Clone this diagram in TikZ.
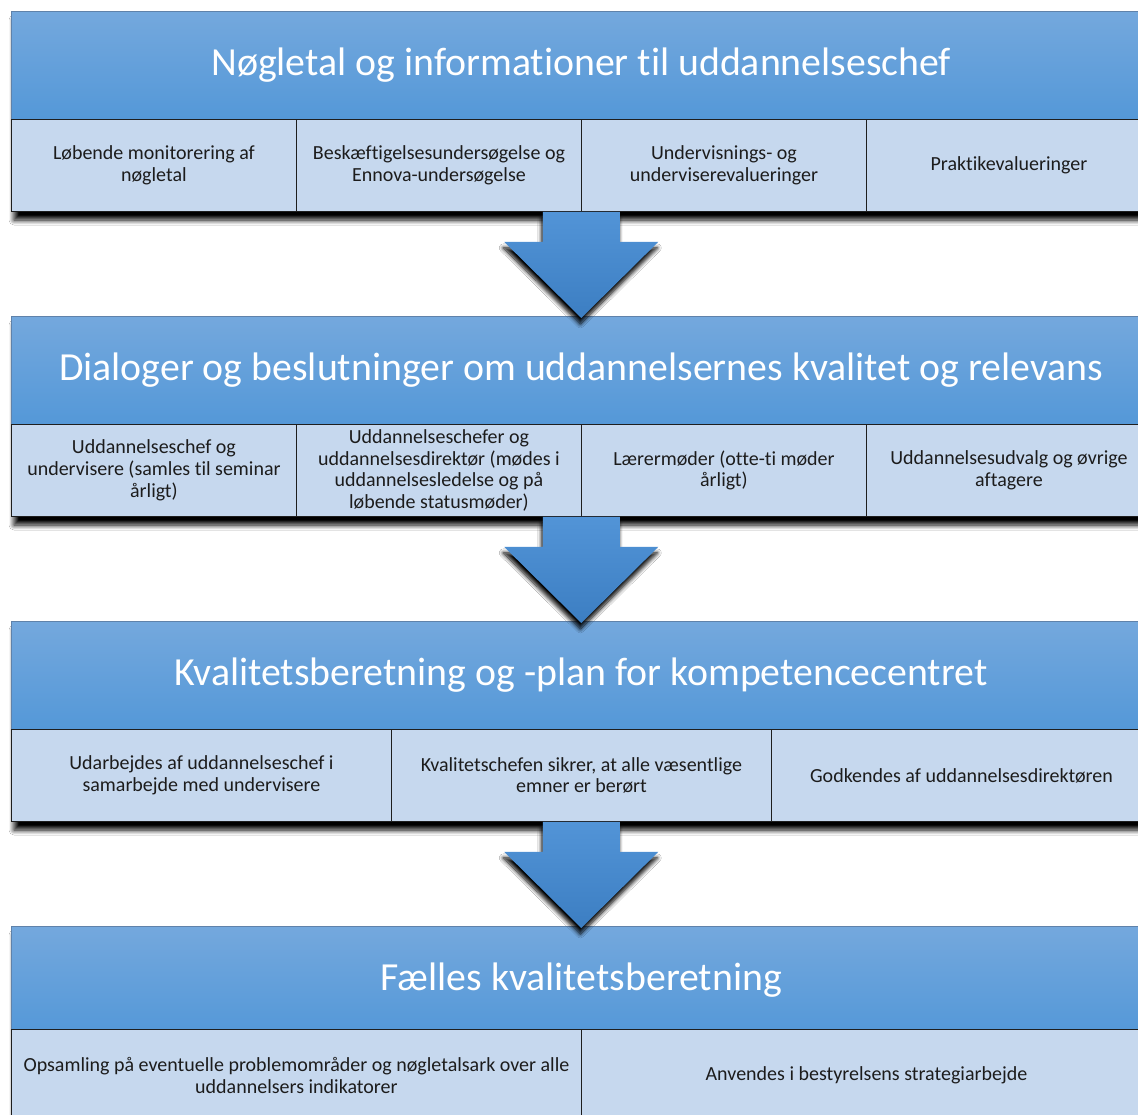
\documentclass[tikz,border=0pt]{standalone}
\usepackage{fontspec}
\setmainfont{Carlito}[Ligatures={NoCommon}]
\usetikzlibrary{shadows.blur,calc}
\definecolor{hdtop}{RGB}{116,168,221}
\definecolor{hdbot}{RGB}{84,152,216}
\definecolor{hdedge}{RGB}{95,130,170}
\definecolor{cellfill}{RGB}{198,216,238}
\definecolor{celltext}{RGB}{28,28,28}
\definecolor{edge}{RGB}{30,30,30}
\definecolor{artop}{RGB}{82,148,215}
\definecolor{arbot}{RGB}{60,126,194}
\newcommand{\flowarrow}[3]{%
  \path[flow] let \p1=(#1.south), \p2=(#2.south), \p3=(#3.north) in
    (\x1-38.5pt,\y2) -- (\x1+38.5pt,\y2) -- (\x1+38.5pt,\y2-30pt) --
    (\x1+77pt,\y2-30pt) -- (\x1,\y3-2pt) -- (\x1-77pt,\y2-30pt) --
    (\x1-38.5pt,\y2-30pt) -- cycle;}
\begin{document}
\begin{tikzpicture}[x=1pt,y=-1pt,
  header/.style={anchor=north west, minimum width=1140pt, minimum height=108pt,
    inner sep=0pt, top color=hdtop, bottom color=hdbot, draw=hdedge, line width=0.5pt,
    text=white, font=\fontsize{39.8}{46}\selectfont},
  cell/.style={anchor=north west, minimum height=92pt, inner sep=0pt,
    fill=cellfill, draw=edge, line width=0.9pt, text=celltext, align=center,
    font=\fontsize{20}{21.7}\selectfont},
  cell4/.style={cell, minimum width=285pt},
  cell3/.style={cell, minimum width=380pt},
  cell2/.style={cell, minimum width=570pt},
  back/.style={fill=cellfill, blur shadow={shadow xshift=3pt, shadow yshift=-9pt,
    shadow blur radius=5pt, shadow blur steps=10, shadow opacity=100}},
  flow/.style={top color=artop, bottom color=arbot, blur shadow={shadow xshift=-1pt,
    shadow yshift=-6pt, shadow blur radius=4pt, shadow blur steps=8, shadow opacity=100}},
]
\useasboundingbox (0,0) rectangle (1138,1115);
\clip (0,0) rectangle (1138,1115);
\fill[white] (0,0) rectangle (1138,1115);

% Section 1
\path[back] (11,11) rectangle (1151,211);
\node[header] (h1) at (11,11) {Nøgletal og informationer til uddannelseschef};
\node[cell4] (c11) at (11,119) {Løbende monitorering af\\nøgletal};
\node[cell4] (c12) at (296,119) {Beskæftigelsesundersøgelse og\\Ennova-undersøgelse};
\node[cell4] (c13) at (581,119) {Undervisnings- og\\underviserevalueringer};
\node[cell4] (c14) at (866,119) {Praktikevalueringer};

% Section 2
\path[back] (11,316) rectangle (1151,516);
\node[header] (h2) at (11,316) {Dialoger og beslutninger om uddannelsernes kvalitet og relevans};
\node[cell4] (c21) at (11,424) {Uddannelseschef og\\undervisere (samles til seminar\\årligt)};
\node[cell4] (c22) at (296,424) {Uddannelseschefer og\\uddannelsesdirektør (mødes i\\uddannelsesledelse og på\\løbende statusmøder)};
\node[cell4] (c23) at (581,424) {Lærermøder (otte-ti møder\\årligt)};
\node[cell4] (c24) at (866,424) {Uddannelsesudvalg og øvrige\\aftagere};

% Section 3
\path[back] (11,621) rectangle (1151,821);
\node[header] (h3) at (11,621) {Kvalitetsberetning og -plan for kompetencecentret};
\node[cell3] (c31) at (11,729) {Udarbejdes af uddannelseschef i\\samarbejde med undervisere};
\node[cell3] (c32) at (391,729) {Kvalitetschefen sikrer, at alle væsentlige\\emner er berørt};
\node[cell3] (c33) at (771,729) {Godkendes af uddannelsesdirektøren};

% Section 4
\path[back] (11,926) rectangle (1151,1122);
\node[header] (h4) at (11,926) {Fælles kvalitetsberetning};
\node[cell2] (c41) at (11,1029) {Opsamling på eventuelle problemområder og nøgletalsark over alle\\uddannelsers indikatorer};
\node[cell2] (c42) at (581,1029) {Anvendes i bestyrelsens strategiarbejde};

% Arrows
\flowarrow{h1}{c11}{h2}
\flowarrow{h2}{c21}{h3}
\flowarrow{h3}{c31}{h4}
\end{tikzpicture}
\end{document}
